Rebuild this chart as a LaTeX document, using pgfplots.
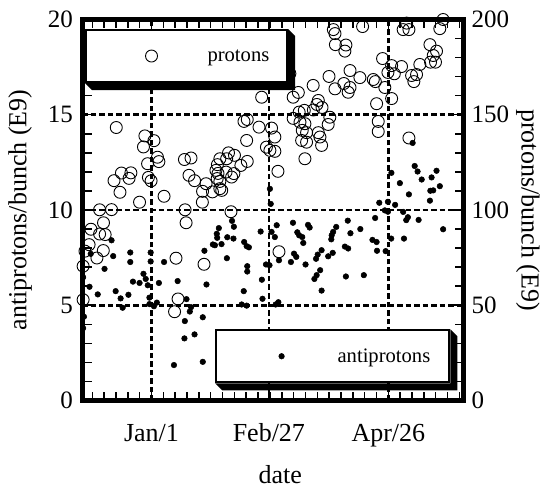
\documentclass[border=0pt]{standalone}
\usepackage{pgfplots}
\pgfplotsset{compat=1.18}
\usepackage{pgfplotstable}
\usepackage{fontspec}
\setmainfont{Liberation Serif}

% antiprotons/bunch (E9) vs. day (0 = Jan/1)
\pgfplotstableread{
day pbar
-33.2 3.80
-32.8 4.40
-33.2 6.47
-30.1 5.97
-29.5 7.70
-26.1 5.57
-22.8 6.91
-19.4 8.41
-18.6 7.58
-17.4 5.74
-15.0 5.36
-14.0 4.87
-11.2 5.55
-10.3 7.77
-10.3 7.27
-9.0 6.24
-5.8 6.17
-3.9 6.65
-2.8 6.38
-1.8 6.05
-1.0 5.40
-0.4 7.77
-0.4 7.30
-1.0 5.06
2.6 5.14
1.2 4.95
3.6 6.17
6.1 7.27
12.7 6.27
10.9 1.86
17.0 5.32
19.2 4.90
18.6 4.67
16.2 4.17
16.0 3.26
20.9 3.47
24.9 4.37
24.9 2.03
25.7 7.86
26.7 6.09
29.8 8.19
32.7 9.05
31.7 8.75
31.9 8.54
30.8 8.15
34.0 8.21
36.8 8.57
39.8 8.50
40.0 9.12
39.1 9.43
36.6 7.47
45.0 8.32
46.2 8.10
47.3 8.04
46.5 7.05
46.5 6.77
44.8 5.74
43.8 5.04
46.2 4.98
53.0 8.87
53.6 6.34
53.9 5.34
55.6 7.14
57.3 7.10
58.3 8.85
59.9 8.58
60.8 9.20
61.9 7.36
61.6 5.16
60.3 5.04
57.9 10.32
57.5 11.11
68.7 9.33
70.8 8.83
71.7 8.67
73.2 8.58
73.7 8.27
76.0 9.22
76.8 9.08
69.2 7.71
70.3 7.54
67.7 7.27
74.8 7.14
82.6 7.89
80.7 7.66
79.9 7.44
81.9 6.84
80.2 6.58
79.1 6.38
82.6 5.77
85.8 7.57
88.0 7.75
87.3 8.46
87.5 8.67
88.2 8.85
89.7 9.11
93.9 8.08
95.5 7.98
94.4 6.51
96.6 8.78
95.3 9.44
101.4 9.00
103.1 6.58
107.3 8.43
109.3 8.32
109.5 7.86
113.7 7.84
116.4 8.50
108.6 9.58
110.6 10.38
113.3 9.98
114.8 10.43
114.8 9.91
118.3 10.27
122.2 9.90
123.7 9.47
124.5 9.62
125.0 10.82
129.7 9.48
122.6 8.50
135.2 10.49
141.6 8.99
126.8 13.52
127.8 12.31
129.2 12.02
131.2 11.60
120.6 11.41
116.5 11.95
138.4 12.06
136.0 11.71
140.0 11.25
136.8 11.03
135.4 11.01
}\antitable

% protons/bunch (E9) vs. day (0 = Jan/1)
\pgfplotstableread{
day p
-33.2 70.5
-33.2 52.9
-32.3 78.4
-30.3 81.8
-29.4 89.9
-26.5 74.8
-25.2 100.1
-25.2 87.4
-23.3 93.3
-23.4 78.7
-22.5 87.1
-19.4 100.2
-18.2 115.4
-17.1 143.3
-15.3 109.3
-14.6 119.4
-10.9 116.6
-10.0 119.5
-5.8 104.1
-3.9 133.1
-3.2 138.9
1.2 136.4
-1.9 124.3
-1.5 117.1
-0.2 115.3
2.9 127.7
3.6 125.4
6.1 107.2
11.9 74.7
12.9 53.3
11.2 46.6
16.0 126.5
19.2 127.3
18.2 118.2
20.9 115.4
16.3 100.1
16.8 93.3
26.5 113.8
24.8 109.8
24.7 104.1
25.5 71.5
29.6 109.5
34.1 110.3
38.6 99.1
61.9 78.1
32.0 123.8
31.3 120.8
32.3 119.2
31.9 116.5
33.2 115.0
33.2 111.2
33.2 126.9
36.5 126.9
37.4 130.0
40.3 128.7
46.5 125.5
43.4 123.4
40.0 119.1
36.2 119.9
38.9 117.3
44.9 146.5
46.5 147.5
46.2 136.5
53.5 159.2
52.2 143.5
58.3 143.0
59.9 138.3
55.8 133.0
57.5 131.3
59.9 130.8
61.4 120.3
67.2 171.6
68.8 159.2
71.3 161.7
78.5 165.4
86.2 170.1
89.1 163.6
71.7 151.4
74.2 152.3
81.0 157.5
78.6 152.5
80.3 155.4
82.8 153.8
86.6 148.7
85.8 144.9
68.8 148.1
72.1 146.1
74.5 145.3
73.2 141.8
75.3 140.6
81.0 140.6
81.8 138.3
72.9 136.5
75.3 135.6
82.6 133.9
74.5 126.9
88.3 194.7
89.1 192.6
89.3 186.8
94.4 186.6
93.9 183.4
102.5 196.3
123.9 198.1
122.2 194.7
125.0 194.7
141.6 200.0
140.0 195.2
135.2 186.8
138.4 183.4
136.8 181.1
135.5 177.6
137.9 177.6
130.3 176.4
126.3 170.6
128.7 171.1
127.4 167.4
112.2 179.5
116.6 175.8
121.4 175.3
114.8 172.2
117.9 171.5
96.4 173.2
101.2 169.5
107.7 168.5
108.7 167.4
93.4 166.4
96.4 164.3
95.5 161.8
113.3 164.3
116.6 158.5
109.3 155.8
110.1 146.5
110.1 141.2
125.0 137.8
}\protontable

\pgfplotsset{
  common/.style={
    scale only axis, width=381bp, height=381bp,
    xmin=-33.5, xmax=151.5,
    axis line style={line width=5bp},
    tick align=inside,
    major tick length=10bp, minor tick length=9bp,
    every tick/.style={black, line width=1.5bp},
    /pgf/number format/assume math mode=true,
    yticklabel style={font=\fontsize{25bp}{25bp}\selectfont},
    xticklabel style={font=\fontsize{26bp}{26bp}\selectfont},
    legend style={draw=black, line width=2bp, fill=white, inner sep=0pt,
      cells={anchor=west}, nodes={inner sep=0pt},
      font=\fontsize{20.6bp}{20.6bp}\selectfont,
      anchor=north west},
    legend image code/.code={
      \pgfpathrectangle{\pgfpoint{-65.5bp}{-26bp}}{\pgfpoint{121.5bp}{52bp}}\pgfusepath{}
      \draw[##1] plot coordinates {(0bp,0bp)};
    },
  },
}

\begin{document}
\begin{tikzpicture}
\useasboundingbox (-82.5bp,-88.5bp) rectangle (463.5bp,400.5bp);
\begin{axis}[common,
  ymin=0, ymax=20, ytick={0,5,10,15,20}, minor y tick num=4,
  ytick pos=left,
  xtick={0,57,115}, xticklabels={Jan/1,Feb/27,Apr/26},
  minor xtick={-28.75,-23,...,149.5},
  grid=major,
  major grid style={black, line width=2.6bp, dash pattern=on 5.5bp off 3bp},
  yticklabel style={anchor=east, inner sep=0pt, xshift=-9.5bp},
  xticklabel style={anchor=base, inner sep=0pt, yshift=-40.75bp},
  xlabel={date},
  ylabel={antiprotons/bunch (E9)},
  every axis x label/.style={at={(axis description cs:0.519,0)}, anchor=base, yshift=-82.5bp, inner sep=0pt, font=\fontsize{26bp}{26bp}\selectfont},
  every axis y label/.style={at={(axis description cs:-0.164,0.5)}, rotate=90, anchor=center, font=\fontsize{26bp}{26bp}\selectfont},
  legend style={at={(axis description cs:0.348,0.187)}, name=legA},
]
\addplot[only marks, mark=*, mark size=2.8bp, mark options={black, fill=black, line width=0.5bp}]
  table[x=day, y=pbar] {\antitable};
\addlegendentry{antiprotons\hspace*{19bp}}
\end{axis}

\begin{axis}[common,
  ymin=0, ymax=200, ytick={0,50,...,200}, minor y tick num=4,
  axis x line=none, axis y line*=right,
  yticklabel style={anchor=west, inner sep=0pt, xshift=8bp},
  ylabel={protons/bunch (E9)},
  every axis y label/.style={at={(axis description cs:1.169,0.5)}, rotate=-90, anchor=center, font=\fontsize{26bp}{26bp}\selectfont},
  legend style={at={(axis description cs:0.0066,0.975)}, name=legP},
]
\addplot[only marks, mark=o, mark size=6bp, mark options={black, line width=0.9bp}]
  table[x=day, y=p] {\protontable};
\addlegendentry{protons\hspace*{17.7bp}}
\end{axis}

% bevelled shadows of the two legend boxes
\foreach \L in {legA,legP}{
  \fill[black] (\L.south west) -- ([shift={(7bp,-7bp)}]\L.south west)
    -- ([shift={(7bp,-7bp)}]\L.south east) -- ([shift={(7bp,-7bp)}]\L.north east)
    -- (\L.north east) -- (\L.south east) -- cycle;
}
\end{tikzpicture}
\end{document}
